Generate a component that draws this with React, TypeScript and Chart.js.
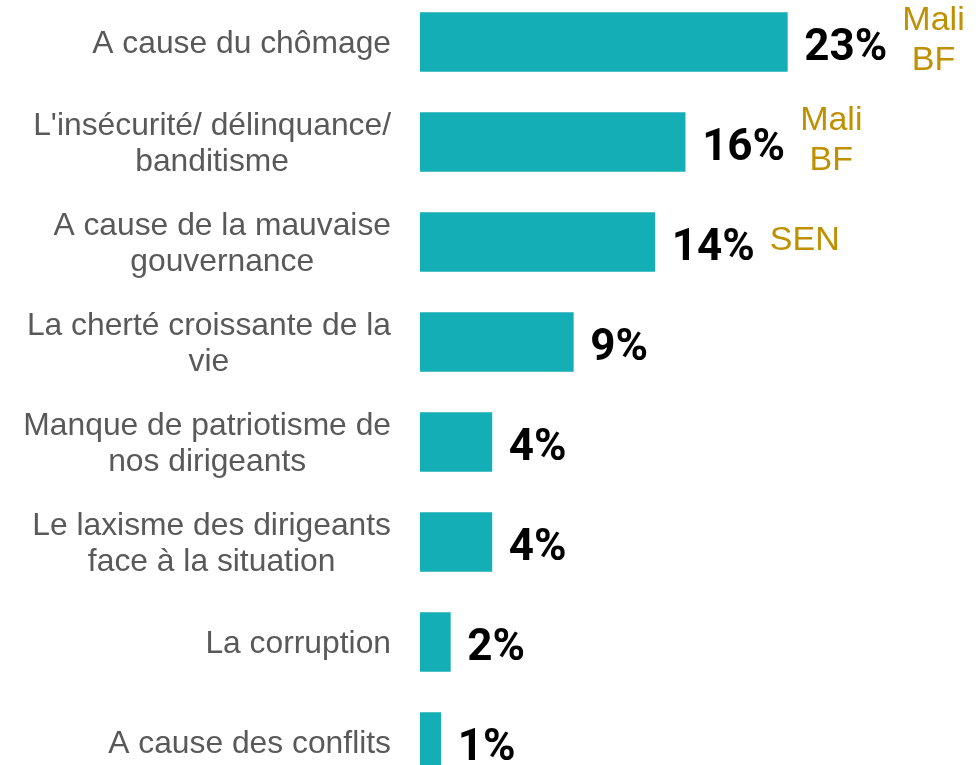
import React, { useEffect, useRef } from "react";
import { Chart, registerables } from "chart.js";

Chart.register(...registerables);

const categories: string[][] = [
  ["A cause du chômage"],
  ["L'insécurité/ délinquance/", "banditisme"],
  ["A cause de la mauvaise", "gouvernance"],
  ["La cherté croissante de la", "vie"],
  ["Manque de patriotisme de", "nos dirigeants"],
  ["Le laxisme des dirigeants", "face à la situation"],
  ["La corruption"],
  ["A cause des conflits"],
];

const values: number[] = [23.0, 16.6, 14.7, 9.6, 4.5, 4.5, 1.9, 1.3];

const valueLabels: string[] = ["23%", "16%", "14%", "9%", "4%", "4%", "2%", "1%"];

const countryNotes: string[][] = [
  ["Mali", "BF"],
  ["Mali", "BF"],
  ["SEN"],
  [],
  [],
  [],
  [],
  [],
];

const BAR_COLOR = "#14AEB6";
const LABEL_COLOR = "#595959";
const NOTE_COLOR = "#BF9000";

const labelPlugin = {
  id: "customLabels",
  afterDatasetsDraw(chart: any) {
    const ctx = chart.ctx;
    const area = chart.chartArea;
    const yScale = chart.scales.y;
    const meta = chart.getDatasetMeta(0);
    ctx.save();
    // category labels (block right-aligned, lines centered)
    ctx.font = '31.8px "Liberation Sans", Arial, sans-serif';
    ctx.fillStyle = LABEL_COLOR;
    ctx.textBaseline = "alphabetic";
    ctx.textAlign = "center";
    const rightEdge = area.left - 29;
    categories.forEach((lines, i) => {
      const yc = yScale.getPixelForValue(i);
      const w = Math.max(...lines.map((l) => ctx.measureText(l).width));
      const cx = rightEdge - w / 2;
      const n = lines.length;
      lines.forEach((l, k) => {
        ctx.fillText(l, cx, yc + 11 + (k - (n - 1) / 2) * 36);
      });
    });
    // value labels + country notes
    meta.data.forEach((el: any, i: number) => {
      const x = el.x;
      const y = el.y;
      ctx.font = 'bold 44px Roboto, "DejaVu Sans", sans-serif';
      ctx.fillStyle = "#000000";
      ctx.textAlign = "left";
      ctx.fillText(valueLabels[i], x + 17, y + 18);
      const w = ctx.measureText(valueLabels[i]).width;
      const notes = countryNotes[i];
      if (notes.length) {
        ctx.font = '34px "Liberation Sans", Arial, sans-serif';
        ctx.fillStyle = NOTE_COLOR;
        ctx.textAlign = "center";
        const nw = Math.max(...notes.map((t) => ctx.measureText(t).width));
        const nx = x + 17 + w + 15 + nw / 2;
        const n = notes.length;
        notes.forEach((t, k) => {
          ctx.fillText(t, nx, y + 8 + (k - (n - 1) / 2) * 40);
        });
      }
    });
    ctx.restore();
  },
};

export default function App() {
  const ref = useRef<HTMLCanvasElement | null>(null);
  useEffect(() => {
    if (!ref.current) return;
    const chart = new Chart(ref.current, {
      type: "bar",
      data: {
        labels: categories.map((c) => c.join(" ")),
        datasets: [
          {
            data: values,
            backgroundColor: BAR_COLOR,
            borderWidth: 0,
            barThickness: 59,
          },
        ],
      },
      options: {
        indexAxis: "y",
        responsive: false,
        animation: false,
        devicePixelRatio: 1,
        layout: { padding: { left: 420, right: 0, top: 0, bottom: 0 } },
        scales: {
          x: { display: false, min: 0, max: 35 },
          y: { display: false },
        },
        plugins: {
          legend: { display: false },
          tooltip: { enabled: false },
        },
      },
      plugins: [labelPlugin],
    });
    return () => chart.destroy();
  }, []);
  return (
    <canvas
      ref={ref}
      width={979}
      height={800}
      style={{ position: "fixed", top: -8, left: 0, width: 979, height: 800 }}
    />
  );
}
